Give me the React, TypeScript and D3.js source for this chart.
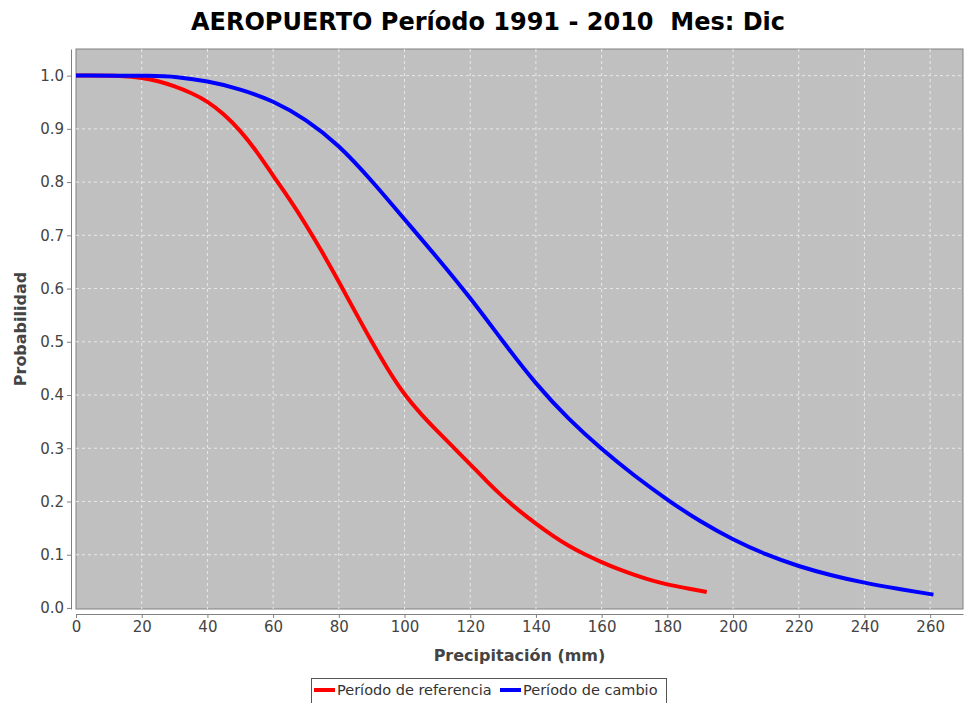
import React, { useRef, useEffect } from 'react'
import { select, scaleLinear, axisBottom, axisLeft, line, curveBasis, range } from 'd3'

const refX = [0, 15, 20, 25, 30, 35, 40, 45, 50, 55, 60, 65, 70, 75, 80, 85, 90, 95, 100, 105, 110, 115, 120, 125, 130, 135, 140, 145, 150, 155, 160, 165, 170, 175, 180, 185, 192]
const refY = [1.0, 1.0, 0.996, 0.99, 0.98, 0.968, 0.952, 0.928, 0.897, 0.858, 0.812, 0.768, 0.72, 0.668, 0.613, 0.556, 0.5, 0.447, 0.4, 0.364, 0.332, 0.301, 0.27, 0.238, 0.208, 0.182, 0.158, 0.136, 0.116, 0.1, 0.086, 0.073, 0.062, 0.052, 0.044, 0.038, 0.03]

const camX = [0, 25, 30, 40, 50, 60, 70, 80, 90, 100, 110, 120, 130, 140, 150, 160, 170, 180, 190, 200, 210, 220, 230, 240, 250, 261]
const camY = [1.0, 1.0, 0.998, 0.99, 0.975, 0.953, 0.918, 0.87, 0.803, 0.73, 0.658, 0.583, 0.5, 0.42, 0.354, 0.298, 0.248, 0.203, 0.162, 0.128, 0.1, 0.078, 0.061, 0.047, 0.036, 0.025]

const xTicks = range(0, 261, 20)
const yTicks = range(0, 11).map(d => d / 10)

const seriesNames = ['Período de referencia', 'Período de cambio']
const seriesColors = ['#ff0000', '#0000ff']

const W = 964
const H = 703
const margin = { top: 49, right: 1, bottom: 94, left: 76 }
const font = '"DejaVu Sans", sans-serif'

const App = () => {
  const ref = useRef<SVGSVGElement>(null)

  useEffect(() => {
    if (ref.current === null) return
    const svg = select(ref.current)
    svg.selectAll('*').remove()

    const pw = W - margin.left - margin.right
    const ph = H - margin.top - margin.bottom
    const x = scaleLinear().domain([0, 270]).range([0, pw])
    const y = scaleLinear().domain([-0.002, 1.05]).range([ph, 0])

    svg.append('rect').attr('width', W).attr('height', H).attr('fill', '#ffffff')

    svg.append('text')
      .attr('x', 488).attr('y', 30)
      .attr('text-anchor', 'middle')
      .style('font-family', font).style('font-weight', 'bold').style('font-size', '24px')
      .style('white-space', 'pre')
      .attr('fill', '#000')
      .text('AEROPUERTO Período 1991 - 2010  Mes: Dic')

    const g = svg.append('g').attr('transform', `translate(${margin.left},${margin.top})`)
    g.append('rect').attr('width', pw).attr('height', ph).attr('fill', '#c0c0c0').attr('stroke', '#808080').attr('stroke-width', 1)

    // grid lines
    g.selectAll('line.gx').data(xTicks.filter(d => d > 0)).enter().append('line')
      .attr('x1', d => x(d)).attr('x2', d => x(d)).attr('y1', 0).attr('y2', ph)
      .attr('stroke', '#e8e8e8').attr('stroke-dasharray', '3,3').attr('stroke-width', 1)
    g.selectAll('line.gy').data(yTicks.filter(d => d > 0)).enter().append('line')
      .attr('x1', 0).attr('x2', pw).attr('y1', d => y(d)).attr('y2', d => y(d))
      .attr('stroke', '#e8e8e8').attr('stroke-dasharray', '3,3').attr('stroke-width', 1)

    const xAxis = axisBottom(x).tickValues(xTicks).tickSize(4).tickSizeOuter(0).tickPadding(3)
    const xg = g.append('g').attr('transform', `translate(0,${ph + 5})`).call(xAxis)
    const yAxis = axisLeft(y).tickValues(yTicks).tickFormat(d => (d as number).toFixed(1)).tickSize(4).tickSizeOuter(0).tickPadding(3)
    const yg = g.append('g').attr('transform', 'translate(-5,0)').call(yAxis)
    ;[xg, yg].forEach(a => {
      a.selectAll('path').attr('stroke', '#808080')
      a.selectAll('line').attr('stroke', '#808080')
      a.selectAll('text').style('font-family', font).style('font-size', '15px').attr('fill', '#444')
    })

    const series = [
      refX.map((d, i) => [x(d), y(refY[i])] as [number, number]),
      camX.map((d, i) => [x(d), y(camY[i])] as [number, number])
    ]
    series.forEach((s, i) => {
      g.append('path')
        .attr('d', line().curve(curveBasis)(s))
        .attr('fill', 'none')
        .attr('stroke', seriesColors[i])
        .attr('stroke-width', 4)
    })

    svg.append('text')
      .attr('x', margin.left + pw / 2).attr('y', 661)
      .attr('text-anchor', 'middle')
      .style('font-family', font).style('font-weight', 'bold').style('font-size', '16px')
      .attr('fill', '#444')
      .text('Precipitación (mm)')

    svg.append('text')
      .attr('transform', `translate(26,${margin.top + ph / 2}) rotate(-90)`)
      .attr('text-anchor', 'middle')
      .style('font-family', font).style('font-weight', 'bold').style('font-size', '16px')
      .attr('fill', '#444')
      .text('Probabilidad')

    // legend
    const lg = svg.append('g')
    lg.append('rect').attr('x', 311.5).attr('y', 678.5).attr('width', 355).attr('height', 30)
      .attr('fill', '#fff').attr('stroke', '#555')
    const starts = [314, 500]
    seriesNames.forEach((n, i) => {
      lg.append('line').attr('x1', starts[i]).attr('x2', starts[i] + 21).attr('y1', 690).attr('y2', 690)
        .attr('stroke', seriesColors[i]).attr('stroke-width', 4)
      lg.append('text').attr('x', starts[i] + 23).attr('y', 695)
        .style('font-family', font).style('font-size', '14.5px').attr('fill', '#333')
        .text(n)
    })
  }, [])

  return (
    <svg ref={ref} width={W} height={H} style={{ position: 'absolute', left: 0, top: 0 }} />
  )
}

export default App
